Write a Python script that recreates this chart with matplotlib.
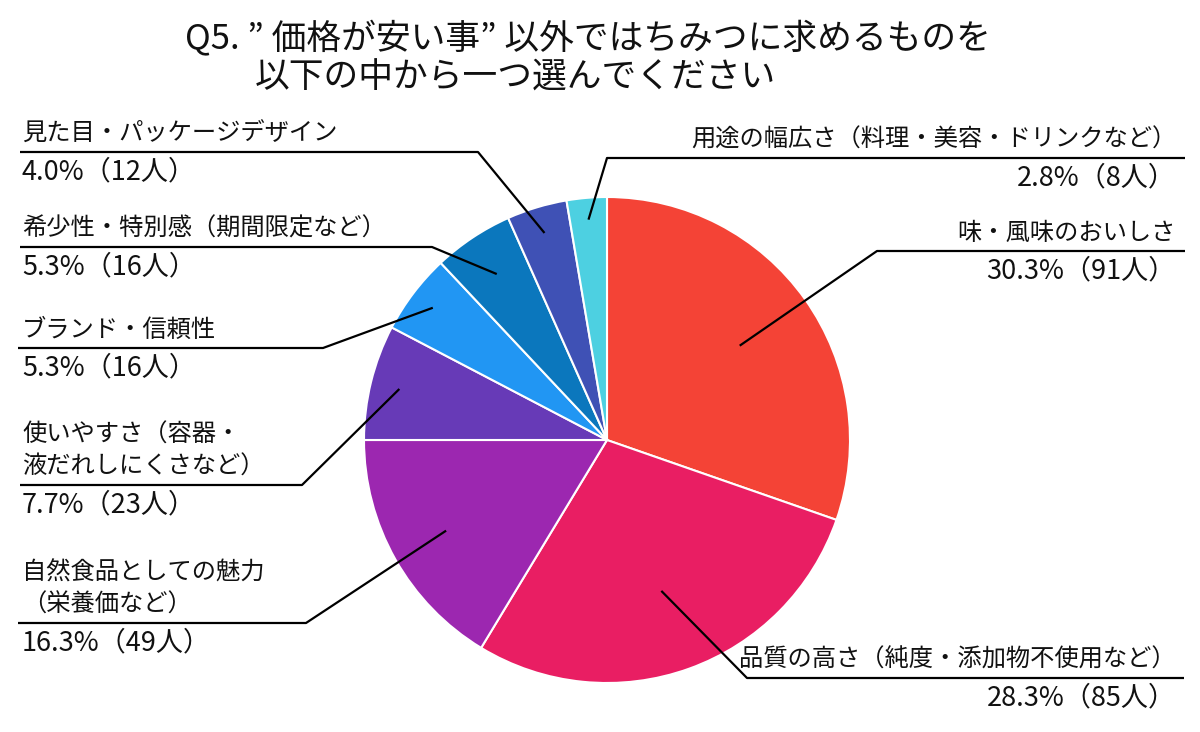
import numpy as np
from matplotlib import pyplot as plt

plt.rcParams['font.family'] = ['Noto Sans CJK JP', 'DejaVu Sans']

# answers in clockwise order from 12 o'clock
labels = [
    '味・風味のおいしさ',
    '品質の高さ（純度・添加物不使用など）',
    '自然食品としての魅力\n（栄養価など）',
    '使いやすさ（容器・\n液だれしにくさなど）',
    'ブランド・信頼性',
    '希少性・特別感（期間限定など）',
    '見た目・パッケージデザイン',
    '用途の幅広さ（料理・美容・ドリンクなど）',
]
counts = [91, 85, 49, 23, 16, 16, 12, 8]
percents = [30.3, 28.3, 16.3, 7.7, 5.3, 5.3, 4.0, 2.8]
colors = ['#F44336', '#E91E63', '#9C27B0', '#673AB7',
          '#2196F3', '#0B77BD', '#3F51B5', '#4DD0E1']

title_1 = 'Q5. ” 価格が安い事” 以外ではちみつに求めるものを'
title_2 = '以下の中から一つ選んでください'

W, H = 1200, 732
# layout in pixels measured from the top-left corner
center = (607, 440)
radius = 243
# (leader start as fraction of radius, elbow x, line y, line x0, line x1, side)
layout = [
    (0.67, 877, 251, 877, 1185, 'right'),
    (0.66, 747, 678, 747, 1184, 'right'),
    (0.76, 306, 623, 18, 306, 'left'),
    (0.88, 302, 485, 20, 302, 'left'),
    (0.90, 323, 348, 18, 323, 'left'),
    (0.82, 432, 247, 20, 432, 'left'),
    (0.89, 478, 152, 20, 478, 'left'),
    (0.91, 607, 158, 607, 1185, 'right'),
]


def fy(y):
    return H - y


fig = plt.figure(figsize=(W / 100, H / 100), dpi=100)
ax = fig.add_axes([0, 0, 1, 1])

wedges, _ = ax.pie(counts, colors=colors, startangle=90, counterclock=False,
                   center=(center[0], fy(center[1])), radius=radius,
                   wedgeprops=dict(edgecolor='white', linewidth=1.5))

for w, name, pct, n, (frac, ex, ly, x0, x1, side) in zip(
        wedges, labels, percents, counts, layout):
    mid = np.deg2rad((w.theta1 + w.theta2) / 2)
    sx = center[0] + frac * radius * np.cos(mid)
    sy = fy(center[1]) + frac * radius * np.sin(mid)
    if side == 'right':
        xs = [sx, ex, x1]
        tx, ha = 1176, 'right'
    else:
        xs = [sx, ex, x0]
        tx, ha = 22, 'left'
    ax.plot(xs, [sy, fy(ly), fy(ly)], color='black', lw=1.6,
            solid_capstyle='butt', zorder=3)
    ax.text(tx, fy(ly - 5), name, ha=ha, va='bottom', fontsize=17.5,
            linespacing=1.3, color='#111111')
    ax.text(tx, fy(ly + 6), f'{pct:.1f}%（{n}人）', ha=ha, va='top',
            fontsize=19.5, color='#111111')

ax.text(185, fy(39), title_1, ha='left', va='center', fontsize=25,
        color='#111111')
ax.text(255, fy(78), title_2, ha='left', va='center', fontsize=25,
        color='#111111')

ax.set_xlim(0, W)
ax.set_ylim(0, H)
ax.set_aspect('equal')
ax.axis('off')
fig.savefig('out.png', dpi=100, facecolor='white')
